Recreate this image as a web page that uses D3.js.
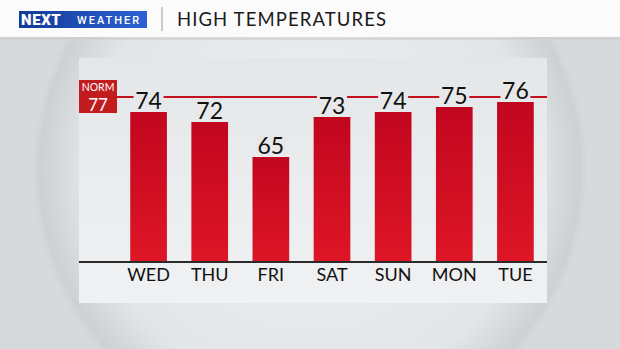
<!DOCTYPE html>
<html>
<head>
<meta charset="utf-8">
<script src="https://cdn.jsdelivr.net/npm/d3@7"></script>
<style>
  body { margin: 0; padding: 0; overflow: hidden; }
  svg { display: block; }
</style>
</head>
<body>
<div id="chart"></div>
<script>
// chart data
const days = ["WED", "THU", "FRI", "SAT", "SUN", "MON", "TUE"]
const highs = [74, 72, 65, 73, 74, 75, 76]
const normal = 77
const title = "HIGH TEMPERATURES"

const W = 620, H = 349
const panel = {x: 79, y: 58, w: 468, h: 245}

const svg = d3.select("#chart")
  .append("svg")
    .attr("width", W)
    .attr("height", H)

const defs = svg.append("defs")

const bg = defs.append("radialGradient").attr("id", "lens")
  .attr("cx", 310).attr("cy", 170).attr("r", 278)
  .attr("gradientUnits", "userSpaceOnUse")
bg.append("stop").attr("offset", "0%").attr("stop-color", "#eef0f1")
bg.append("stop").attr("offset", "80%").attr("stop-color", "#e3e6e8")
bg.append("stop").attr("offset", "97%").attr("stop-color", "#cdd1d4")
bg.append("stop").attr("offset", "100%").attr("stop-color", "#d6dadc")

const barGrad = defs.append("linearGradient").attr("id", "bar")
  .attr("x1", 0).attr("y1", 0).attr("x2", 0).attr("y2", 1)
barGrad.append("stop").attr("offset", "0%").attr("stop-color", "#c2061f")
barGrad.append("stop").attr("offset", "100%").attr("stop-color", "#de1626")

const logoGrad = defs.append("linearGradient").attr("id", "logo")
  .attr("x1", 0).attr("y1", 0).attr("x2", 1).attr("y2", 0)
logoGrad.append("stop").attr("offset", "0%").attr("stop-color", "#143a96")
logoGrad.append("stop").attr("offset", "100%").attr("stop-color", "#2c62d4")

const panelGrad = defs.append("linearGradient").attr("id", "panel")
  .attr("x1", 0).attr("y1", 0).attr("x2", 0).attr("y2", 1)
panelGrad.append("stop").attr("offset", "0%").attr("stop-color", "#e4e7e9")
panelGrad.append("stop").attr("offset", "100%").attr("stop-color", "#f0f1f2")

// background
svg.append("rect").attr("width", W).attr("height", H).attr("fill", "#d6dadc")
svg.append("circle").attr("cx", 310).attr("cy", 170).attr("r", 278).attr("fill", "url(#lens)")

// header
svg.append("rect").attr("width", W).attr("height", 37).attr("fill", "#fbfbfb")
svg.append("rect").attr("y", 37).attr("width", W).attr("height", 3).attr("fill", "#c9cdd0").attr("opacity", 0.6)

svg.append("rect").attr("x", 19).attr("y", 11).attr("width", 128).attr("height", 17).attr("fill", "url(#logo)")
svg.append("text").attr("x", 21).attr("y", 25)
  .attr("font-family", "Roboto").attr("font-weight", 900).attr("font-size", 15)
  .attr("fill", "#fff").attr("letter-spacing", 0.6).text("NEXT")
svg.append("text").attr("x", 77).attr("y", 24)
  .attr("font-family", "Roboto").attr("font-weight", 500).attr("font-size", 11)
  .attr("fill", "#fff").attr("letter-spacing", 2).text("WEATHER")
svg.append("line").attr("x1", 162).attr("x2", 162).attr("y1", 7).attr("y2", 31)
  .attr("stroke", "#9a9a9a").attr("stroke-width", 1)
svg.append("text").attr("x", 177).attr("y", 26)
  .attr("font-family", "Lato").attr("font-size", 18.5).attr("fill", "#1a1a1a")
  .attr("letter-spacing", 1.1).text(title)

// panel
svg.append("rect").attr("x", panel.x).attr("y", panel.y).attr("width", panel.w).attr("height", panel.h)
  .attr("fill", "url(#panel)")

const x = d3.scaleBand().domain(days).range([118, 546]).paddingInner(0.4).paddingOuter(0.2)
const y = d3.scaleLinear().domain([44, 80]).range([262, 82])

// normal line
svg.append("line").attr("x1", 117).attr("x2", panel.x + panel.w)
  .attr("y1", y(normal)).attr("y2", y(normal))
  .attr("stroke", "#c3121d").attr("stroke-width", 2)

const normBox = svg.append("g").attr("transform", `translate(${panel.x},${y(normal) - 17})`)
normBox.append("rect").attr("width", 38).attr("height", 33).attr("fill", "#c21c1f")
normBox.append("text").attr("x", 19).attr("y", 11).attr("text-anchor", "middle")
  .attr("font-family", "Lato").attr("font-size", 10.5).attr("fill", "#fff").text("NORM")
normBox.append("text").attr("x", 19).attr("y", 30.5).attr("text-anchor", "middle")
  .attr("font-family", "Lato").attr("font-size", 17).attr("fill", "#fff").text(normal)

// bars
svg.selectAll(".bar")
  .data(highs)
  .enter()
  .append("rect")
  .attr("class", "bar")
  .attr("x", (d, i) => x(days[i]))
  .attr("y", d => y(d))
  .attr("width", x.bandwidth())
  .attr("height", d => y(44) - y(d))
  .attr("fill", "url(#bar)")

// value labels with a backing so the normal line breaks around them
const labels = svg.selectAll(".val")
  .data(highs)
  .enter()
  .append("g")
  .attr("class", "val")
  .attr("transform", (d, i) => `translate(${x(days[i]) + x.bandwidth() / 2},${y(d) - 3})`)
labels.append("rect")
  .attr("x", -15).attr("y", -19).attr("width", 30).attr("height", 18)
  .attr("fill", "#e6e8ea")
labels.append("text")
  .attr("text-anchor", "middle")
  .attr("font-family", "Lato").attr("font-size", 23).attr("fill", "#111")
  .text(d => d)

// baseline + day labels
svg.append("line").attr("x1", panel.x).attr("x2", panel.x + panel.w)
  .attr("y1", y(44)).attr("y2", y(44))
  .attr("stroke", "#2b2b2b").attr("stroke-width", 2)

svg.selectAll(".day")
  .data(days)
  .enter()
  .append("text")
  .attr("class", "day")
  .attr("x", d => x(d) + x.bandwidth() / 2)
  .attr("y", 281)
  .attr("text-anchor", "middle")
  .attr("font-family", "Lato").attr("font-size", 18).attr("fill", "#111")
  .text(d => d)
</script>
</body>
</html>
